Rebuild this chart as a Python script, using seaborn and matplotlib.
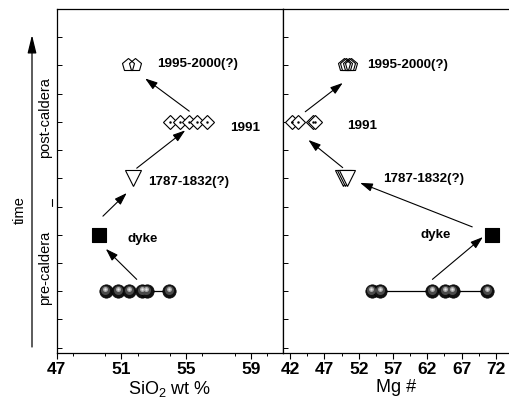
import numpy as np
import pandas as pd
import matplotlib
matplotlib.use("Agg")
import matplotlib.pyplot as plt
import matplotlib.transforms as mtransforms
from matplotlib.ticker import MultipleLocator
import seaborn as sns

# values
sio2_pre = [50.02, 50.8, 51.47, 52.3, 52.57, 53.96]
mg_pre = [53.9, 55.1, 62.66, 64.6, 65.7, 70.75]
sio2_dyke = [49.6]
mg_dyke = [71.5]
sio2_1787 = [51.7]
mg_1787 = [49.7, 50.0, 50.3]
sio2_1991 = [54.02, 54.64, 55.16, 55.68, 56.3]
mg_1991 = [42.2, 43.2, 45.3, 45.6]
sio2_1995 = [51.4, 51.85]
mg_1995 = [49.8, 50.2, 50.6, 50.9]

# stage positions on the time axis
y_pre, y_dyke, y_1787, y_1991, y_1995 = 1, 2, 3, 4, 5

# arrows (start x, start y, end x, end y)
arrows_sio2 = [(51.95, 1.21, 50.04, 1.75), (49.86, 2.33, 51.33, 2.74),
               (51.95, 3.18, 54.95, 3.85), (55.2, 4.19, 52.47, 4.77)]
arrows_mg = [(62.74, 1.21, 70.1, 1.96), (68.55, 2.14, 52.2, 2.92),
             (49.66, 3.19, 44.66, 3.68), (44.2, 4.18, 49.66, 4.69)]

# label positions (x, y, text)
labels_sio2 = [(53.2, 5.02, "1995-2000(?)"), (57.7, 3.9, "1991"),
               (52.65, 2.93, "1787-1832(?)"), (51.35, 1.93, "dyke")]
labels_mg = [(53.2, 5.0, "1995-2000(?)"), (50.3, 3.92, "1991"),
             (55.6, 2.99, "1787-1832(?)"), (61.0, 1.99, "dyke")]

sns.set_style("ticks")
plt.rcParams['font.family'] = ['Liberation Sans', 'DejaVu Sans']
plt.rcParams['mathtext.fontset'] = 'custom'
plt.rcParams['mathtext.rm'] = 'Liberation Sans'
for key in ['text.color', 'axes.labelcolor', 'xtick.color', 'ytick.color', 'axes.edgecolor']:
    plt.rcParams[key] = 'black'

fig = plt.figure(figsize=(5.09, 4.03), dpi=100)
ax1 = fig.add_axes([0.1114, 0.1233, 0.4446, 0.8543])
ax2 = fig.add_axes([0.5566, 0.1233, 0.4446, 0.8543])


def spheres(ax, xs, y):
    ax.plot(xs, [y] * len(xs), color='black', lw=0.9, zorder=2)
    sns.scatterplot(x=xs, y=[y] * len(xs), ax=ax, marker='o', s=92,
                    color='#111111', edgecolor='black', linewidth=0.5, zorder=3)
    mid = mtransforms.offset_copy(ax.transData, fig=fig, x=-0.3, y=1.0, units='dots')
    hi = mtransforms.offset_copy(ax.transData, fig=fig, x=-0.3, y=2.2, units='dots')
    ax.plot(xs, [y] * len(xs), 'o', ms=6.5, color='#4a4a4a', mew=0, transform=mid, zorder=4)
    ax.plot(xs, [y] * len(xs), 'o', ms=3.6, color='#a8a8a8', mew=0, transform=hi, zorder=5)
    ax.plot(xs, [y] * len(xs), 'o', ms=1.6, color='#e6e6e6', mew=0, transform=hi, zorder=6)


def panel(ax, pre, dyke, t1787, t1991, t1995, arrows, labels):
    spheres(ax, pre, y_pre)
    sns.scatterplot(x=dyke, y=[y_dyke] * len(dyke), ax=ax, marker='s', s=100,
                    color='black', edgecolor='black', zorder=3)
    ax.plot(t1787, [y_1787] * len(t1787), 'v', ms=11, mfc='white', mec='black',
            mew=0.8, zorder=3)
    for xv in t1991:
        ax.plot([xv], [y_1991], 'D', ms=6.8, mfc='white', mec='black', mew=0.8, zorder=3)
        ax.plot([xv], [y_1991], '.', ms=1.5, color='black', zorder=4)
    ax.plot(t1995, [y_1995] * len(t1995), 'p', ms=9.5, mfc='none', mec='black',
            mew=0.8, zorder=3)
    for x0, y0, x1, y1 in arrows:
        ax.annotate("", xy=(x1, y1), xytext=(x0, y0),
                    arrowprops=dict(arrowstyle="-|>,head_length=0.75,head_width=0.25",
                                    color='black', lw=0.8, mutation_scale=10,
                                    shrinkA=0, shrinkB=0))
    for xv, yv, t in labels:
        ax.text(xv, yv, t, ha='left', va='center', fontsize=9.6, fontweight='bold')
    ax.set_ylim(-0.1, 6)
    ax.yaxis.set_major_locator(MultipleLocator(0.5))
    ax.tick_params(axis='y', direction='in', length=3.5, width=0.7, labelleft=False)
    ax.tick_params(axis='x', which='major', direction='out', length=4.5, width=0.8,
                   labelsize=12.5, pad=2)
    ax.tick_params(axis='x', which='minor', direction='out', length=2.5, width=0.7)
    for sp in ax.spines.values():
        sp.set_linewidth(0.9)
        sp.set_color('black')
    ax.set_ylabel("")


panel(ax1, sio2_pre, sio2_dyke, sio2_1787, sio2_1991, sio2_1995, arrows_sio2, labels_sio2)
panel(ax2, mg_pre, mg_dyke, mg_1787, mg_1991, mg_1995, arrows_mg, labels_mg)

ax1.set_xlim(47, 61)
ax1.set_xticks([47, 51, 55, 59])
ax1.xaxis.set_minor_locator(MultipleLocator(2))
ax1.set_xlabel("SiO$_2$ wt %", fontsize=13, labelpad=1)

ax2.set_xlim(41, 74)
ax2.set_xticks([42, 47, 52, 57, 62, 67, 72])
ax2.set_xticks(np.arange(44.5, 74, 5), minor=True)
ax2.set_xlabel("Mg #", fontsize=13, labelpad=1)
ax2.spines['right'].set_visible(False)

for ax in (ax1, ax2):
    for lab in ax.get_xticklabels():
        lab.set_fontweight('bold')

# time axis on the far left
fig.add_artist(matplotlib.patches.FancyArrowPatch(
    (32, 56), (32, 368), transform=None,
    arrowstyle="-|>,head_length=1.1,head_width=0.27", mutation_scale=10,
    color='black', lw=0.9, shrinkA=0, shrinkB=0))
fig.add_artist(matplotlib.lines.Line2D([52, 52], [197, 204], transform=None,
                                       color='black', lw=0.8))
fig.text(20 / 509, 1 - 210 / 403, "time", rotation=90, ha='center', va='center', fontsize=10.5)
fig.text(45 / 509, 1 - 118 / 403, "post-caldera", rotation=90, ha='center', va='center',
         fontsize=10.5)
fig.text(45 / 509, 1 - 268 / 403, "pre-caldera", rotation=90, ha='center', va='center',
         fontsize=10.5)

fig.savefig("out.png", dpi=100)
